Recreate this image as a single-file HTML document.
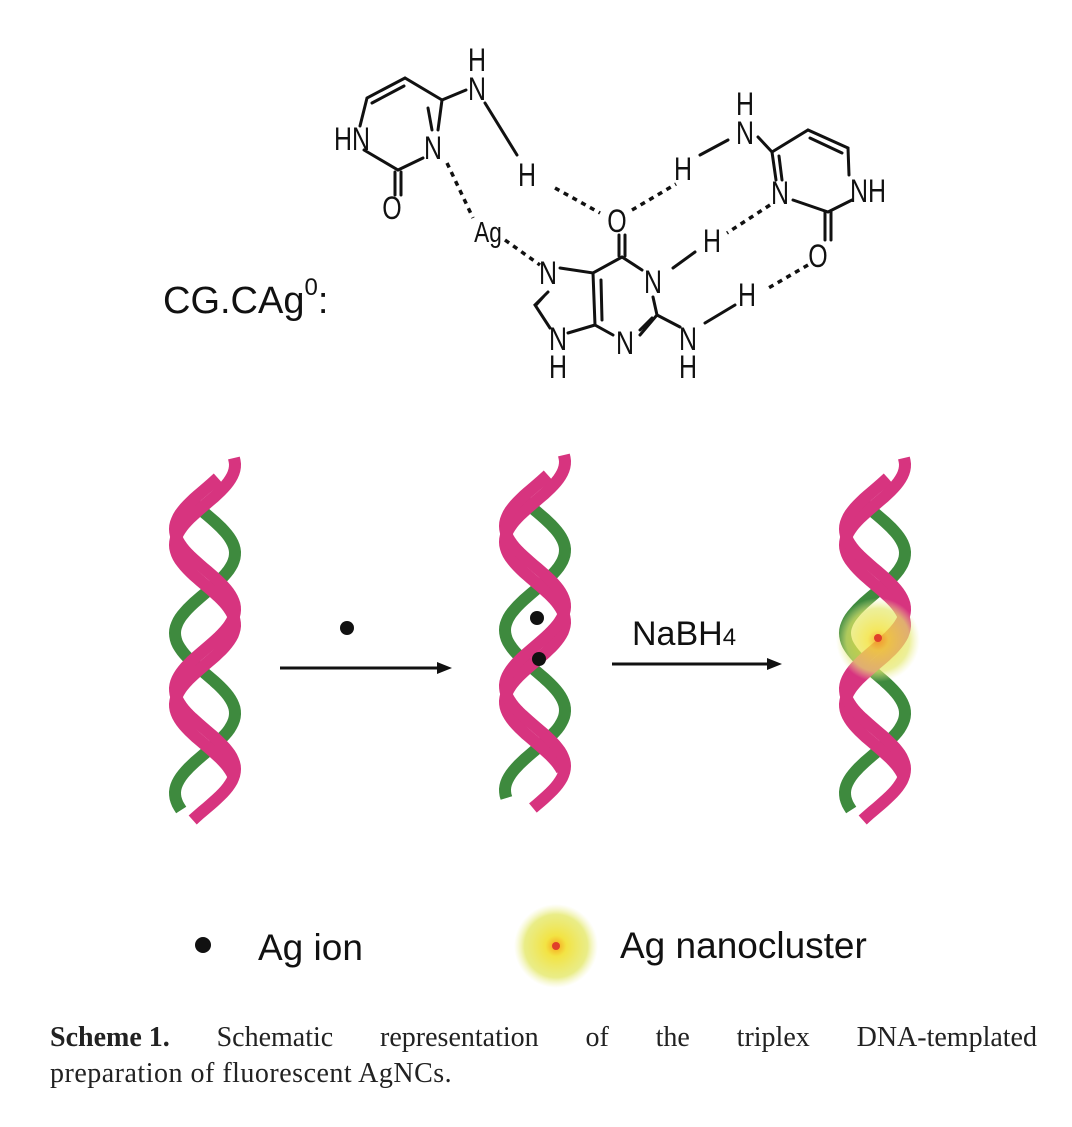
<!DOCTYPE html>
<html><head><meta charset="utf-8">
<style>
html,body{margin:0;padding:0;background:#fff;}
body{width:1072px;height:1127px;position:relative;overflow:hidden;}
svg{position:absolute;left:0;top:0;}
.cap{position:absolute;left:50px;width:987px;font-family:"Liberation Serif",serif;font-size:28px;color:#222;}
</style></head>
<body>
<svg id="s" width="1072" height="1127" viewBox="0 0 1072 1127" xmlns="http://www.w3.org/2000/svg">
<defs>
<radialGradient id="glow" cx="50%" cy="50%" r="50%">
<stop offset="0" stop-color="#f7a51c"/>
<stop offset="0.25" stop-color="#f2e23a" stop-opacity="0.95"/>
<stop offset="0.75" stop-color="#e4e86a" stop-opacity="0.8"/>
<stop offset="1" stop-color="#eef0a0" stop-opacity="0"/>
</radialGradient>
</defs>
<g transform="scale(0.78,1)">
<g id="chem" font-family="Liberation Sans, sans-serif" font-size="32" fill="#111" text-anchor="middle"></g>
</g>
<g stroke="#111" stroke-width="3" fill="none" stroke-linecap="round">
<path d="M360 126 L367 98 L405 78 L442 100 L438 130"/>
<path d="M372 103 L404 86"/>
<path d="M428 108 L432 130" />
<path d="M364 150 L398 170 L423 158"/>
<path d="M442 100 L466 90"/>
<path d="M485 103 L517 155"/>
<path d="M395 172 L395 195 M401 172 L401 195"/>
<path d="M560 268 L593 273 L622 257 L642 270"/>
<path d="M619 256 L619 235 M625 256 L625 235"/>
<path d="M593 273 L595 325 L613 335 M601 280 L602 320"/>
<path d="M548 292 L535 305 L550 328 M544 296 L536 305"/>
<path d="M568 333 L595 325"/>
<path d="M653 297 L657 315 L640 335 M652 318 L640 330"/>
<path d="M657 315 L680 327"/>
<path d="M673 268 L695 252"/>
<path d="M705 323 L735 305"/>
<path d="M758 137 L772 152 L808 130 L848 148 L849 175"/>
<path d="M810 138 L842 153"/>
<path d="M772 152 L776 180 M779 156 L782 180"/>
<path d="M793 200 L828 212 L852 200"/>
<path d="M825 212 L825 240 M831 212 L831 240"/>
<path d="M700 155 L728 140"/>
</g>
<g stroke="#111" stroke-width="3.5" fill="none" stroke-dasharray="5,5">
<path d="M447 163 L473 218"/>
<path d="M505 240 L540 265"/>
<path d="M555 188 L600 213"/>
<path d="M632 210 L676 184"/>
<path d="M770 205 L727 233"/>
<path d="M808 265 L765 290"/>
</g>
<text x="163" y="313" font-family="Liberation Sans, sans-serif" font-size="38" fill="#111">CG.CAg<tspan font-size="24" dy="-18">0</tspan><tspan dy="18">:</tspan></text>

<g id="helices"></g>

<line x1="280" y1="668" x2="440" y2="668" stroke="#111" stroke-width="3"/>
<path d="M452 668 L437 662 L437 674 Z" fill="#111"/>
<circle cx="347" cy="628" r="7" fill="#111"/>
<line x1="612" y1="664" x2="770" y2="664" stroke="#111" stroke-width="3"/>
<path d="M782 664 L767 658 L767 670 Z" fill="#111"/>
<text x="632" y="645" font-family="Liberation Sans, sans-serif" font-size="34" fill="#111">NaBH<tspan font-size="24">4</tspan></text>
<circle cx="537" cy="618" r="7" fill="#111"/>
<circle cx="539" cy="659" r="7" fill="#111"/>
<circle cx="878" cy="640" r="42" fill="url(#glow)" opacity="0.85"/>
<circle cx="878" cy="638" r="4" fill="#e0402a"/>

<circle cx="203" cy="945" r="8" fill="#111"/>
<text x="258" y="960" font-family="Liberation Sans, sans-serif" font-size="37" fill="#111">Ag ion</text>
<circle cx="556" cy="946" r="42" fill="url(#glow)"/>
<circle cx="556" cy="946" r="4" fill="#e0402a"/>
<text x="620" y="958" font-family="Liberation Sans, sans-serif" font-size="37" fill="#111">Ag nanocluster</text>
</svg>
<div class="cap" style="top:1022px;display:flex;justify-content:space-between;"><b>Scheme&nbsp;1.</b><span>Schematic</span><span>representation</span><span>of</span><span>the</span><span>triplex</span><span>DNA-templated</span></div>
<div class="cap" style="top:1058px;letter-spacing:0.5px;">preparation of fluorescent AgNCs.</div>
<script>
(function(){
var NS='http://www.w3.org/2000/svg';
var c=document.getElementById('chem');
var L=[["H",477,71],["N",477,100],["HN",352,150],["N",433,159],["O",392,219],["H",527,186],
["Ag",488,242],["N",548,284],["N",558,350],["H",558,378],["O",617,232],["N",653,293],["N",625,354],
["N",688,350],["H",688,378],["H",712,252],["H",747,306],["H",745,115],["N",745,144],["H",683,180],
["NH",868,202],["N",780,204],["O",818,267]];
L.forEach(function(a){var t=document.createElementNS(NS,'text');t.setAttribute('x',(a[1]/0.78).toFixed(1));t.setAttribute('y',a[2]);
if(a[0]=="Ag")t.setAttribute('font-size','29');t.textContent=a[0];c.appendChild(t);});
var g=document.getElementById('helices');
function strand(cx,y0,y1,A,P,ph,col,w){
  var d='';
  for(var y=y0;y<=y1;y+=3){
    var x=cx+A*Math.sin(2*Math.PI*(y-y0)/P+ph);
    d+=(y==y0?'M':'L')+x.toFixed(1)+' '+y;
  }
  var p=document.createElementNS(NS,'path');
  p.setAttribute('d',d);p.setAttribute('stroke',col);p.setAttribute('stroke-width',w);
  p.setAttribute('fill','none');
  g.appendChild(p);
}
var pink='#d7347f',green='#3e8a3e';
function helix(cx,top,bot){
  strand(cx,top+40,bot-10,30,160,-0.6,green,12);
  strand(cx,top,bot-40,30,160,1.3,pink,12);
  strand(cx,top+20,bot,30,160,2.7,pink,12);
}
helix(205,458,820);
helix(535,455,810);
helix(875,458,820);
})();
</script>
</body></html>
